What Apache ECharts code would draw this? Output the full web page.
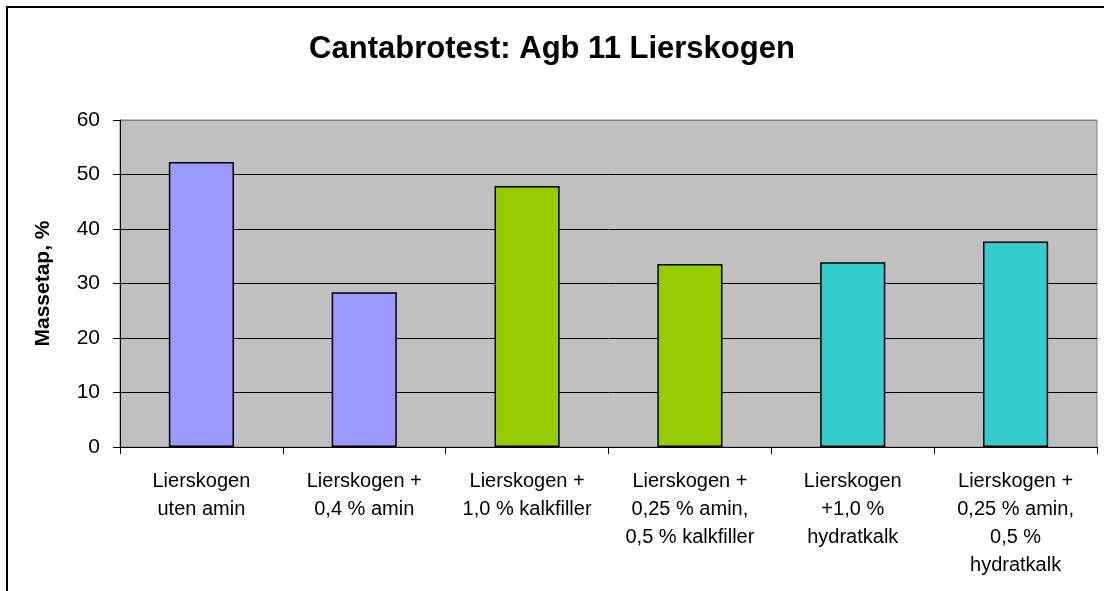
<!DOCTYPE html>
<html>
<head>
<meta charset="utf-8">
<script src="https://cdn.jsdelivr.net/npm/echarts@6/dist/echarts.min.js"></script>
<style>
  html, body { margin: 0; padding: 0; background: #fff; }
  #chart { width: 1104px; height: 591px; }
</style>
</head>
<body>
<div id="chart"></div>
<script>
'use strict';

// data
var categories = [
  'Lierskogen\nuten amin',
  'Lierskogen +\n0,4 % amin',
  'Lierskogen +\n1,0 % kalkfiller',
  'Lierskogen +\n0,25 % amin,\n0,5 % kalkfiller',
  'Lierskogen\n+1,0 %\nhydratkalk',
  'Lierskogen +\n0,25 % amin,\n0,5 %\nhydratkalk'
];
var massetap = [52.3, 28.4, 47.9, 33.6, 33.9, 37.7];
var yTicks = [0, 10, 20, 30, 40, 50, 60];

var barColors = ['#9999FF', '#9999FF', '#99CC00', '#99CC00', '#33CCCC', '#33CCCC'];
var font = '"Liberation Sans", Arial, sans-serif';

var chart = echarts.init(document.getElementById('chart'));

var option = {
  animation: false,
  backgroundColor: '#ffffff',
  title: {
    text: 'Cantabrotest: Agb 11 Lierskogen',
    left: 'center',
    top: 29,
    textStyle: {
      fontFamily: font,
      fontSize: 31,
      fontWeight: 'bold',
      color: '#000'
    }
  },
  // outer chart frame (runs off the right and bottom edge)
  graphic: [{
    type: 'rect',
    shape: { x: 7, y: 7, width: 1300, height: 1000 },
    style: { fill: 'none', stroke: '#000', lineWidth: 2 },
    silent: true
  }],
  grid: {
    left: 120,
    right: 7,
    top: 120,
    bottom: 144,
    show: true,
    backgroundColor: '#C0C0C0',
    borderColor: '#808080',
    borderWidth: 1
  },
  xAxis: {
    type: 'category',
    data: categories,
    axisLine: { lineStyle: { color: '#000', width: 1 } },
    axisTick: { show: true, length: 7, lineStyle: { color: '#000' } },
    axisLabel: {
      interval: 0,
      margin: 20,
      lineHeight: 28,
      fontFamily: font,
      fontSize: 20,
      color: '#000',
      align: 'center'
    }
  },
  yAxis: {
    type: 'value',
    min: yTicks[0],
    max: yTicks[yTicks.length - 1],
    interval: yTicks[1] - yTicks[0],
    name: 'Massetap, %',
    nameLocation: 'middle',
    nameGap: 66,
    nameRotate: 90,
    nameTextStyle: {
      fontFamily: font,
      fontSize: 21,
      fontWeight: 'bold',
      color: '#000'
    },
    axisLine: { show: true, lineStyle: { color: '#000', width: 1 } },
    axisTick: { show: true, length: 7, lineStyle: { color: '#000' } },
    axisLabel: {
      margin: 20,
      fontFamily: font,
      fontSize: 21,
      color: '#000'
    },
    splitLine: {
      lineStyle: {
        color: ['#000', '#000', '#000', '#000', '#000', '#000', '#808080'],
        width: 1
      }
    }
  },
  series: [{
    type: 'bar',
    data: massetap.map(function (v, k) {
      return {
        value: v,
        itemStyle: { color: barColors[k] }
      };
    }),
    barWidth: '40%',
    itemStyle: {
      borderColor: '#000',
      borderWidth: 1.5
    }
  }]
};

chart.setOption(option);
</script>
</body>
</html>
